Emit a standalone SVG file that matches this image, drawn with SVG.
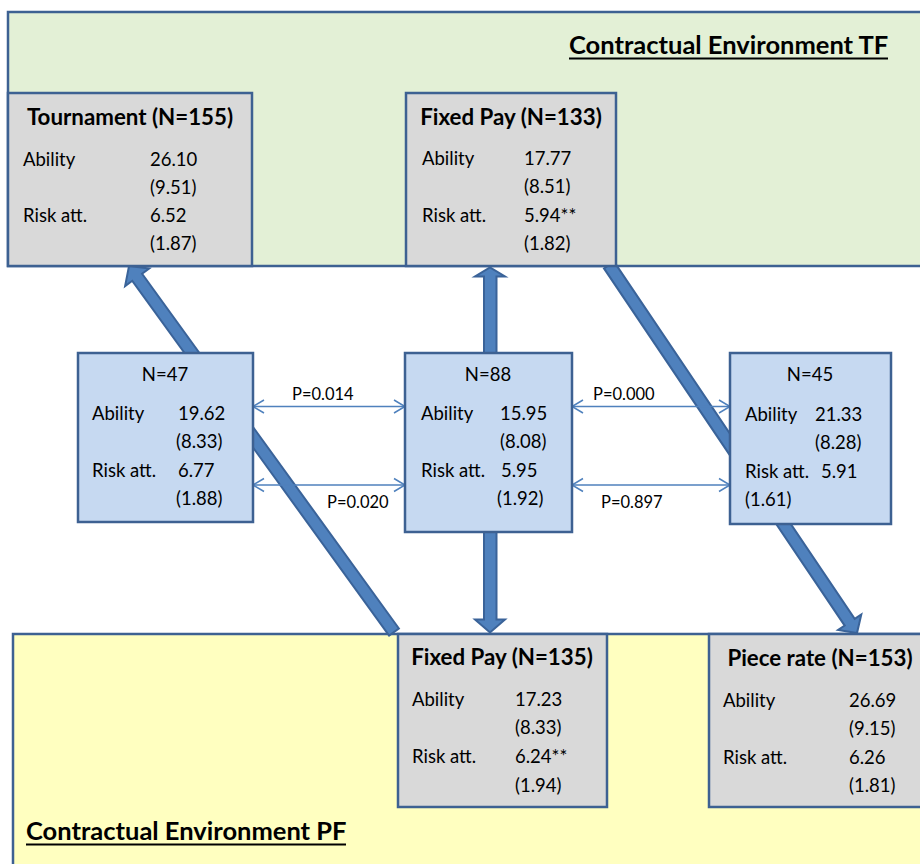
<svg xmlns="http://www.w3.org/2000/svg" width="920" height="864" viewBox="0 0 920 864">
<defs>
<marker id="open" markerUnits="userSpaceOnUse" markerWidth="14" markerHeight="16" viewBox="0 0 14 16" refX="12" refY="8" orient="auto-start-reverse">
<path d="M1,1.5 L12,8 L1,14.5" fill="none" stroke="#4F81BD" stroke-width="1.5"/>
</marker>
</defs>
<style>
.env{stroke:#3D6192;stroke-width:2.5}
.box{stroke:#3D6192;stroke-width:2.5}
.gray{fill:#D9D9D9}
.blue{fill:#C6D9F1}
.t{font-family:Lato,"Liberation Sans",sans-serif;font-size:18.5px;fill:#000}
.h{font-family:Lato,"Liberation Sans",sans-serif;font-size:22.3px;font-weight:bold;fill:#000;text-anchor:middle}
.c{text-anchor:middle}
.p{font-family:Lato,"Liberation Sans",sans-serif;font-size:16.5px;fill:#000}
.el{font-family:Lato,"Liberation Sans",sans-serif;font-size:25.5px;font-weight:bold;fill:#000}
.ul{stroke:#000;stroke-width:2}
.thin{stroke:#4F81BD;stroke-width:1.5;fill:none;marker-start:url(#open);marker-end:url(#open)}
.thick{fill:#4F81BD;stroke:#3A6399;stroke-width:2;stroke-linejoin:miter}
</style>
<rect width="920" height="864" fill="#FFFFFF"/>

<g id="env-tf">
<rect class="env" x="8" y="12" width="930" height="254" fill="#E3F0D6"/>
<text class="el" x="569" y="54">Contractual Environment TF</text>
<line class="ul" x1="569" y1="58.5" x2="888" y2="58.5"/>
</g>

<g id="env-pf">
<rect class="env" x="13" y="634" width="930" height="250" fill="#FFFFC0"/>
<text class="el" x="26" y="840">Contractual Environment PF</text>
<line class="ul" x1="26" y1="844.5" x2="346" y2="844.5"/>
</g>

<g id="connectors">
<polygon class="thick" points="398.9,628.5 142.1,273.8 149.3,268.5 129,266 125.1,286.1 132.3,280.8 389.1,635.5"/>
<polygon class="thick" points="614,261.6 854.7,618.9 861.3,614.4 857,633 838.1,630 844.7,625.6 604,268.4"/>
<polygon class="thick" points="484,354 484,276.5 475,276.5 490,267.5 505,276.5 496.5,276.5 496.5,354"/>
<polygon class="thick" points="484,531 484,619.5 475,619.5 490,632.5 505,619.5 496.5,619.5 496.5,531"/>
<line class="thin" x1="253" y1="406.5" x2="405" y2="406.5"/>
<line class="thin" x1="253" y1="485" x2="405" y2="485"/>
<line class="thin" x1="572" y1="406.5" x2="730" y2="406.5"/>
<line class="thin" x1="572" y1="485" x2="730" y2="485"/>
<text class="p" x="292" y="400">P=0.014</text>
<text class="p" x="327" y="508">P=0.020</text>
<text class="p" x="593" y="400">P=0.000</text>
<text class="p" x="601" y="508">P=0.897</text>
</g>

<g id="tournament">
<rect class="box gray" x="8" y="93" width="244" height="173"/>
<text class="h" x="130" y="125">Tournament (N=155)</text>
<text class="t" x="23" y="166">Ability</text>
<text class="t" x="150" y="166">26.10</text>
<text class="t" x="150" y="194">(9.51)</text>
<text class="t" x="23" y="222">Risk att.</text>
<text class="t" x="150" y="222">6.52</text>
<text class="t" x="150" y="250">(1.87)</text>
</g>

<g id="fixedpay-tf">
<rect class="box gray" x="406" y="93" width="210" height="173"/>
<text class="h" x="511" y="125">Fixed Pay (N=133)</text>
<text class="t" x="422" y="165">Ability</text>
<text class="t" x="524" y="165">17.77</text>
<text class="t" x="524" y="193">(8.51)</text>
<text class="t" x="422" y="222">Risk att.</text>
<text class="t" x="524" y="222">5.94**</text>
<text class="t" x="524" y="250">(1.82)</text>
</g>

<g id="n47">
<rect class="box blue" x="78" y="353" width="175" height="169"/>
<text class="t c" x="165" y="381">N=47</text>
<text class="t" x="92" y="420">Ability</text>
<text class="t" x="178" y="420">19.62</text>
<text class="t" x="176" y="448">(8.33)</text>
<text class="t" x="92" y="477">Risk att.</text>
<text class="t" x="178" y="477">6.77</text>
<text class="t" x="176" y="505">(1.88)</text>
</g>

<g id="n88">
<rect class="box blue" x="405" y="353" width="167" height="179"/>
<text class="t c" x="488" y="381">N=88</text>
<text class="t" x="421" y="420">Ability</text>
<text class="t" x="500" y="420">15.95</text>
<text class="t" x="500" y="448">(8.08)</text>
<text class="t" x="421" y="477">Risk att.</text>
<text class="t" x="501" y="477">5.95</text>
<text class="t" x="497" y="505">(1.92)</text>
</g>

<g id="n45">
<rect class="box blue" x="730" y="353" width="161" height="171"/>
<text class="t c" x="810" y="381">N=45</text>
<text class="t" x="745" y="421">Ability</text>
<text class="t" x="815" y="421">21.33</text>
<text class="t" x="815" y="449">(8.28)</text>
<text class="t" x="745" y="478">Risk att.</text>
<text class="t" x="821" y="478">5.91</text>
<text class="t" x="745" y="506">(1.61)</text>
</g>

<g id="fixedpay-pf">
<rect class="box gray" x="398" y="634" width="209" height="173"/>
<text class="h" x="502" y="665">Fixed Pay (N=135)</text>
<text class="t" x="412" y="706">Ability</text>
<text class="t" x="515" y="706">17.23</text>
<text class="t" x="515" y="734">(8.33)</text>
<text class="t" x="412" y="763">Risk att.</text>
<text class="t" x="515" y="763">6.24**</text>
<text class="t" x="515" y="792">(1.94)</text>
</g>

<g id="piecerate">
<rect class="box gray" x="709" y="634" width="230" height="173"/>
<text class="h" x="820" y="666">Piece rate (N=153)</text>
<text class="t" x="723" y="707">Ability</text>
<text class="t" x="849" y="707">26.69</text>
<text class="t" x="849" y="735">(9.15)</text>
<text class="t" x="723" y="764">Risk att.</text>
<text class="t" x="849" y="764">6.26</text>
<text class="t" x="849" y="792">(1.81)</text>
</g>
</svg>
